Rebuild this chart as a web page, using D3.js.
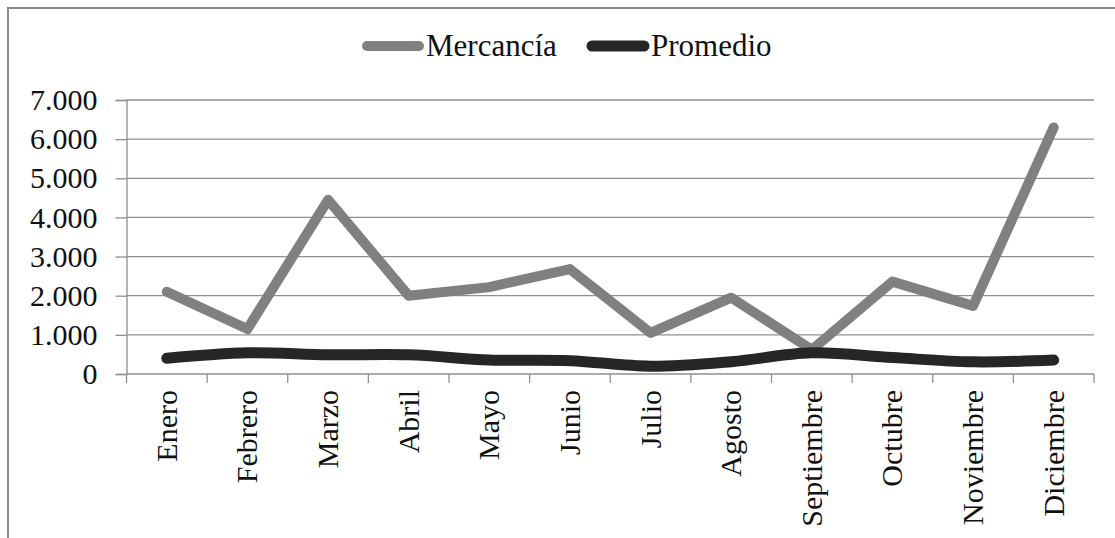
<!DOCTYPE html>
<html>
<head>
<meta charset="utf-8">
<script src="https://cdn.jsdelivr.net/npm/d3@7"></script>
<style>
  body { margin: 0; background: #fff; }
  svg text { font-family: "Liberation Serif", Tinos, "Times New Roman", Times, "DejaVu Serif", "Noto Serif", serif; fill: #111; }
</style>
</head>
<body>
<div id="chart"></div>
<script>
const months = ["Enero", "Febrero", "Marzo", "Abril", "Mayo", "Junio", "Julio",
    "Agosto", "Septiembre", "Octubre", "Noviembre", "Diciembre"];
const mercancia = [2100, 1150, 4450, 2000, 2220, 2680, 1050, 1950, 620, 2360, 1740, 6300];
const promedio = [400, 540, 490, 490, 360, 340, 200, 315, 540, 420, 310, 355];
const yTicks = [0, 1000, 2000, 3000, 4000, 5000, 6000, 7000];
const seriesNames = ["Mercancía", "Promedio"];
const seriesColors = ["#808080", "#262626"];

const width = 1115,
    height = 538;
const plot = { left: 126.5, right: 1094, top: 100, bottom: 374 };

const svg = d3.select("#chart")
    .append("svg")
    .attr("width", width)
    .attr("height", height);

// outer frame (right and bottom edges fall outside the picture)
svg.append("rect")
    .attr("x", 8)
    .attr("y", 8)
    .attr("width", width + 20)
    .attr("height", height + 20)
    .attr("fill", "none")
    .attr("stroke", "#8a8a8a")
    .attr("stroke-width", 2);

const x = d3.scaleBand().domain(months).range([plot.left, plot.right]);
const y = d3.scaleLinear().domain([0, 7000]).range([plot.bottom, plot.top]);

const locale = d3.formatLocale({ decimal: ",", thousands: ".", grouping: [3], currency: ["", ""] });
const fmt = locale.format(",");

// y axis with gridlines
const yAxis = svg.append("g")
    .attr("transform", `translate(${plot.left},0)`)
    .call(d3.axisLeft(y).tickValues(yTicks).tickFormat(fmt).tickSize(11).tickPadding(18));
yAxis.attr("font-family", null).attr("font-size", null);
yAxis.select(".domain").attr("stroke", "#8f8f8f").attr("stroke-width", 1.3);
yAxis.selectAll(".tick line").attr("stroke", "#8f8f8f").attr("stroke-width", 1.3);
yAxis.selectAll(".tick text")
    .attr("font-size", "30px")
    .attr("fill", "#111");

svg.append("g")
    .selectAll("line")
    .data(yTicks)
    .join("line")
    .attr("x1", plot.left)
    .attr("x2", plot.right)
    .attr("y1", d => y(d))
    .attr("y2", d => y(d))
    .attr("stroke", "#8f8f8f")
    .attr("stroke-width", 1.3);

// x axis ticks at band edges
const edges = months.map(m => x(m)).concat([x.range()[1]]);
svg.append("g")
    .selectAll("line")
    .data(edges)
    .join("line")
    .attr("x1", d => d)
    .attr("x2", d => d)
    .attr("y1", y(0))
    .attr("y2", y(0) + 9)
    .attr("stroke", "#8f8f8f")
    .attr("stroke-width", 1.3);

svg.append("g")
    .selectAll("text")
    .data(months)
    .join("text")
    .attr("transform", d => `translate(${x(d) + x.bandwidth() / 2 + 10},${y(0) + 16}) rotate(-90)`)
    .attr("text-anchor", "end")
    .attr("font-size", "30px")
    .text(d => d);

// lines
const cx = (d, i) => x(months[i]) + x.bandwidth() / 2;
const straight = d3.line().x(cx).y(d => y(d));
const smooth = d3.line().x(cx).y(d => y(d)).curve(d3.curveCatmullRom.alpha(0.5));

svg.append("path")
    .datum(mercancia)
    .attr("d", straight)
    .attr("fill", "none")
    .attr("stroke", seriesColors[0])
    .attr("stroke-width", 10)
    .attr("stroke-linecap", "round")
    .attr("stroke-linejoin", "round");

svg.append("path")
    .datum(promedio)
    .attr("d", smooth)
    .attr("fill", "none")
    .attr("stroke", seriesColors[1])
    .attr("stroke-width", 11)
    .attr("stroke-linecap", "round")
    .attr("stroke-linejoin", "round");

// legend
const legendX = [367, 592];
const legend = svg.append("g");
seriesNames.forEach((name, i) => {
    const g = legend.append("g").attr("transform", `translate(${legendX[i]}, 46)`);
    g.append("line")
        .attr("x1", 0)
        .attr("x2", 52)
        .attr("stroke", seriesColors[i])
        .attr("stroke-width", i === 0 ? 10 : 11)
        .attr("stroke-linecap", "round");
    g.append("text")
        .attr("x", 59)
        .attr("y", 10)
        .attr("font-size", "31px")
        .text(name);
});
</script>
</body>
</html>
